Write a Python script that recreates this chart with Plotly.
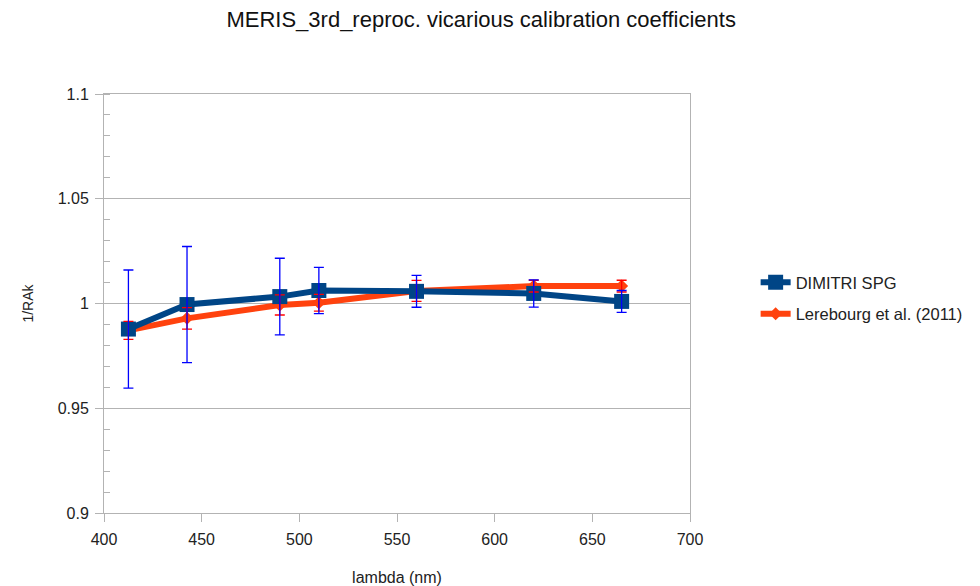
import plotly.graph_objects as go

# Data
wavelengths = [412.5, 442.5, 490, 510, 560, 620, 665]
dimitri_vals = [0.9878, 0.9995, 1.0033, 1.0062, 1.0058, 1.0048, 1.0010]
dimitri_err = [0.0282, 0.0277, 0.0183, 0.0110, 0.0076, 0.0065, 0.0052]
lereb_vals = [0.9872, 0.9929, 0.9993, 1.0004, 1.0060, 1.0083, 1.0083]
lereb_err = [0.0043, 0.0051, 0.0048, 0.0040, 0.0050, 0.0028, 0.0028]
y_tickvals = [0.9, 0.95, 1.0, 1.05, 1.1]
y_ticktext = ["0.9", "0.95", "1", "1.05", "1.1"]

BLUE = "#004586"
ORANGE = "#ff420e"
FONT = "Liberation Sans, Arial, sans-serif"

fig = go.Figure()

# line/marker traces
fig.add_trace(go.Scatter(
    x=wavelengths, y=lereb_vals, mode="lines+markers",
    name="Lerebourg et al. (2011)", legendgroup="b", legendrank=2,
    line=dict(color=ORANGE, width=6),
    marker=dict(symbol="diamond", size=10, color=ORANGE),
))
fig.add_trace(go.Scatter(
    x=wavelengths, y=dimitri_vals, mode="lines+markers",
    name="DIMITRI SPG", legendgroup="a", legendrank=1,
    line=dict(color=BLUE, width=6),
    marker=dict(symbol="square", size=15, color=BLUE),
))
# error bar traces drawn on top
fig.add_trace(go.Scatter(
    x=wavelengths, y=lereb_vals, mode="markers", showlegend=False,
    marker=dict(size=1, opacity=0), hoverinfo="skip",
    error_y=dict(type="data", array=lereb_err, visible=True,
                 color="#ff0000", thickness=1.3, width=5),
))
fig.add_trace(go.Scatter(
    x=wavelengths, y=dimitri_vals, mode="markers", showlegend=False,
    marker=dict(size=1, opacity=0), hoverinfo="skip",
    error_y=dict(type="data", array=dimitri_err, visible=True,
                 color="#0000ff", thickness=1.3, width=5),
))

axis_color = "#b3b3b3"
TXT = "#222222"
fig.update_layout(
    width=980, height=586,
    paper_bgcolor="white", plot_bgcolor="white",
    margin=dict(l=104, r=288, t=94, b=73),
    font=dict(family=FONT, size=16, color=TXT),
    title=dict(text="MERIS_3rd_reproc. vicarious calibration coefficients",
               x=0.491, xref="container", xanchor="center",
               y=1 - 19 / 586, yref="container", yanchor="middle",
               font=dict(size=22, color="#111111", family=FONT)),
    legend=dict(x=1.112, xanchor="left", y=0.513, yanchor="middle",
                traceorder="grouped", tracegroupgap=7,
                font=dict(size=16.5, color=TXT),
                bgcolor="rgba(0,0,0,0)"),
    showlegend=True,
)
fig.update_xaxes(
    range=[400, 700], dtick=50, tick0=400,
    showgrid=False, zeroline=False, automargin=False,
    showline=True, linecolor=axis_color, linewidth=1, mirror=True,
    ticks="outside", ticklen=8, tickcolor=axis_color,
    ticklabelstandoff=4,
    tickfont=dict(size=16, color=TXT),
    title=dict(text="lambda (nm)", font=dict(size=16, color=TXT), standoff=28),
)
fig.update_yaxes(
    range=[0.9, 1.1], tickvals=y_tickvals, ticktext=y_ticktext,
    showgrid=True, gridcolor=axis_color, gridwidth=1, zeroline=False,
    automargin=False,
    showline=True, linecolor=axis_color, linewidth=1, mirror=True,
    ticks="outside", ticklen=8, tickcolor=axis_color,
    ticklabelstandoff=3,
    minor=dict(dtick=0.01, tick0=0.9, ticks="inside", ticklen=6,
               tickcolor=axis_color, showgrid=False),
    tickfont=dict(size=16, color=TXT),
    title=dict(text="1/RAk", font=dict(size=14, color=TXT), standoff=20),
)

fig.write_html("out.html")
